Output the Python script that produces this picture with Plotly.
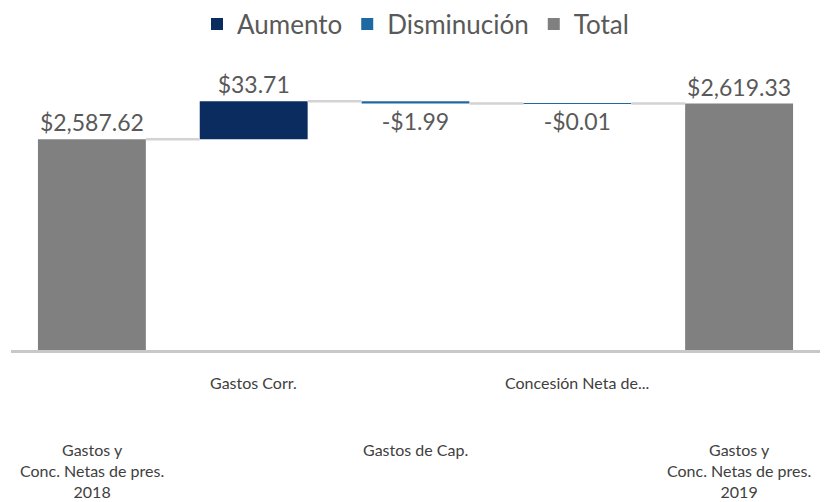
import plotly.graph_objects as go

categories = ["Gastos y<br>Conc. Netas de pres.<br>2018", "Gastos Corr.", "Gastos de Cap.",
              "Concesión Neta de...", "Gastos y<br>Conc. Netas de pres.<br>2019"]
values = [2587.62, 33.71, -1.99, -0.01, 2619.33]
kinds = ["total", "inc", "dec", "dec", "total"]
labels = ["$2,587.62", "$33.71", "-$1.99", "-$0.01", "$2,619.33"]

colors = {"inc": "#0b2c5f", "dec": "#1f69a3", "total": "#808080"}
names = {"inc": "Aumento", "dec": "Disminución", "total": "Total"}

BAR_W = 0.667
Y_MIN, Y_MAX = 2400, 2700

# compute bases / levels
bases, heights, levels = [], [], []
run = 0.0
for v, k in zip(values, kinds):
    if k == "total":
        bases.append(0.0)
        heights.append(v)
        run = v
    else:
        bases.append(run)
        heights.append(v)
        run = run + v
    levels.append(run)

fig = go.Figure()
for k in ["inc", "dec", "total"]:
    idx = [i for i, kk in enumerate(kinds) if kk == k]
    fig.add_trace(go.Bar(
        x=idx, y=[heights[i] for i in idx], base=[bases[i] for i in idx],
        width=BAR_W, name=names[k], marker=dict(color=colors[k], line=dict(width=0)),
        text=[labels[i] for i in idx], textposition="outside",
        textfont=dict(size=23, color="#595959", family="Lato"),
        cliponaxis=False, hoverinfo="skip",
    ))

# connectors
for i in range(len(values) - 1):
    fig.add_trace(go.Scatter(
        x=[i + BAR_W / 2, i + 1 - BAR_W / 2], y=[levels[i], levels[i]],
        mode="lines", line=dict(color="#d3d3d3", width=2.5),
        showlegend=False, hoverinfo="skip",
    ))

# category labels (staggered)
for i, c in enumerate(categories):
    fig.add_annotation(
        x=i, xref="x", y=(-0.062 if i % 2 else -0.262), yref="paper",
        yanchor="top", xanchor="center", showarrow=False, text=c,
        font=dict(size=16, color="#404040", family="Lato"),
    )

fig.update_layout(
    width=828, height=502,
    margin=dict(l=11, r=8, t=13, b=152, autoexpand=False),
    paper_bgcolor="white", plot_bgcolor="white",
    barmode="overlay",
    showlegend=True,
    legend=dict(orientation="h", x=0.5, xanchor="center", y=0.967, yanchor="middle",
                font=dict(size=26, color="#595959", family="Lato"),
                traceorder="normal", itemwidth=30),
    xaxis=dict(range=[-0.5, 4.5], showticklabels=False, showgrid=False, zeroline=False,
               showline=True, linecolor="#c8c8c8", linewidth=3, ticks=""),
    yaxis=dict(range=[Y_MIN, Y_MAX], visible=False, showgrid=False, zeroline=False),
)

fig.write_html("out.html", config={"displayModeBar": False},
               post_script="document.body.style.margin='0';document.body.style.overflow='hidden';")
